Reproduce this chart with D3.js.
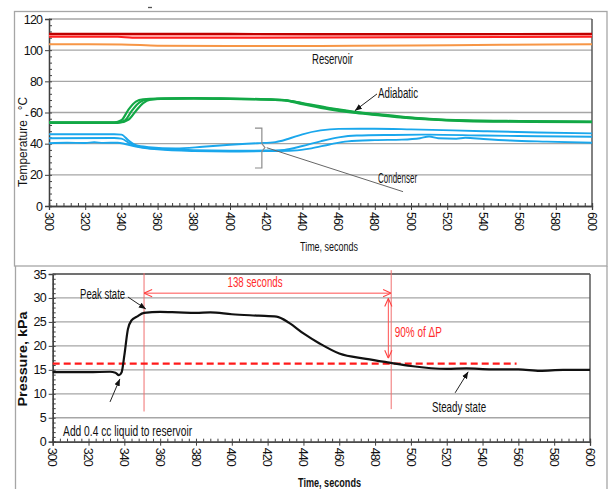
<!DOCTYPE html>
<html>
<head>
<meta charset="utf-8">
<script src="https://cdn.jsdelivr.net/npm/d3@7"></script>
<style>
  body { margin: 0; background: #fff; }
  svg text { font-family: "Liberation Sans", Arial, sans-serif; }
</style>
</head>
<body>
<div id="chart"></div>
<script>
/*
DATA
*/
// temperature panel, [time s, °C]
const reservoirDark = [[300, 110.5], [400, 110.4], [500, 110.3], [600, 110.5]];
const reservoirMid = [[300, 109.5], [400, 109.4], [600, 109.6]];
const reservoirRed = [[300, 108.6], [338, 108.6], [346, 108], [400, 108], [500, 108.3], [600, 108.6]];
const reservoirOrange = [[300, 103.8], [340, 103.7], [360, 102.9], [400, 102.6], [450, 102.7], [500, 103], [550, 103.4], [600, 103.8]];

const adiabatic1 = [[300, 53.5], [336, 53.5], [340, 55], [344, 62], [348, 67], [352, 68.5], [360, 69], [380, 69.2], [400, 68.9], [420, 68.5], [430, 68], [440, 65.8], [455, 62.5], [468, 60.3], [480, 58.8], [494, 57.2], [510, 55.8], [530, 54.8], [560, 54.3], [600, 54]];
const adiabatic2 = [[300, 53.4], [338, 53.4], [342, 55], [346, 61.5], [350, 66.5], [354, 68.3], [362, 68.8], [380, 69], [400, 68.7], [420, 68.3], [430, 67.8], [440, 65.4], [455, 62], [468, 59.9], [480, 58.5], [494, 56.9], [510, 55.5], [530, 54.5], [560, 54.1], [600, 53.8]];
const adiabatic3 = [[300, 53.6], [339, 53.6], [344, 55.5], [348, 61], [352, 66], [356, 68.2], [364, 68.9], [380, 69.1], [400, 68.8], [420, 68.4], [430, 67.9], [440, 66], [455, 62.8], [468, 60.6], [480, 59.1], [494, 57.4], [510, 56], [530, 55], [560, 54.5], [600, 54.2]];

const condenserA = [[300, 46], [336, 46], [340, 45.8], [344, 42], [348, 39], [355, 37.8], [370, 37], [385, 38], [400, 39.3], [415, 40.3], [425, 41], [432, 43], [440, 46], [450, 48.5], [460, 49.5], [480, 49.6], [500, 49.2], [540, 48], [570, 47.2], [600, 46.6]];
const condenserB = [[300, 43.5], [336, 43.6], [340, 43.2], [345, 40], [350, 38], [360, 36.7], [380, 35.8], [400, 35.5], [420, 35.6], [430, 36], [440, 38.5], [450, 41.5], [460, 44], [470, 45.2], [490, 45.6], [510, 45.8], [540, 45.2], [570, 44.8], [600, 44.4]];
const condenserC = [[300, 40.3], [310, 40.6], [320, 40.4], [325, 40.9], [330, 40.5], [338, 40.6], [342, 39.8], [348, 38.2], [360, 36.4], [380, 35.3], [400, 35], [420, 35.2], [435, 35.6], [445, 37], [455, 39.5], [465, 41.5], [480, 42.3], [495, 42.6], [505, 43.5], [510, 44.6], [515, 43.5], [525, 43.2], [530, 43.8], [540, 43], [555, 42], [575, 41.3], [600, 40.6]];

// pressure panel, [time s, kPa]
const pressure = [[300, 14.5], [320, 14.5], [332, 14.6], [335, 14.4], [337, 13.9], [338.5, 14.5], [340, 18], [342, 23.5], [344, 25.3], [347, 26.1], [351, 26.9], [360, 27.1], [370, 27], [380, 26.9], [388, 27], [400, 26.6], [415, 26.3], [425, 26.1], [432, 24.8], [440, 22.6], [449, 20.5], [460, 18.4], [475, 17.3], [488, 16.5], [500, 15.8], [520, 15.2], [531, 15.3], [545, 15.1], [560, 15.1], [572, 14.8], [585, 15], [600, 15]];
const threshold = [[300, 16.3], [559, 16.3]];
const peakTime = 351;
const steadyTime = 489;

// axes
const timeTicks = d3.range(300, 601, 20);
const tempTicks = d3.range(0, 121, 20);
const pressTicks = d3.range(0, 36, 5);

/*
SET UP
*/
const w = 609;
const h = 489;
const gridCol = "#a6a6a6";
const frameCol = "#a6a6a6";
const axisCol = "#404040";

const svg = d3.select("#chart").append("svg").attr("width", w).attr("height", h);

const defs = svg.append("defs");
defs.append("marker").attr("id", "tri").attr("viewBox", "0 0 10 10")
	.attr("refX", 10).attr("refY", 5).attr("markerUnits", "userSpaceOnUse")
	.attr("markerWidth", 7).attr("markerHeight", 7).attr("orient", "auto")
	.append("path").attr("d", "M0,1 L10,5 L0,9 z").attr("fill", "#111");
defs.append("marker").attr("id", "chev").attr("viewBox", "0 0 10 10")
	.attr("refX", 10).attr("refY", 5).attr("markerUnits", "userSpaceOnUse")
	.attr("markerWidth", 9).attr("markerHeight", 9).attr("orient", "auto-start-reverse")
	.append("path").attr("d", "M1,1 L10,5 L1,9").attr("fill", "none")
	.attr("stroke", "#ff4040").attr("stroke-width", 1.2);

// outer frames
svg.append("rect").attr("x", 14.5).attr("y", 11.5).attr("width", 592.5).attr("height", 254.5)
	.attr("fill", "none").attr("stroke", frameCol).attr("stroke-width", 1.3);
svg.append("path").attr("d", "M15.5,266 L15.5,492 M607,266 L607,492")
	.attr("fill", "none").attr("stroke", frameCol).attr("stroke-width", 1.3);
svg.append("line").attr("x1", 148).attr("x2", 152).attr("y1", 7.5).attr("y2", 7.5)
	.attr("stroke", "#555").attr("stroke-width", 1.3);

/*
PANEL HELPER
*/
function panel(x, y, yTicks, yMinorStep, minorTime) {
	const g = svg.append("g");
	// grid
	g.selectAll(".grid").data(yTicks.filter((d) => d > y.domain()[0]))
		.join("line").attr("class", "grid")
		.attr("x1", x.range()[0]).attr("x2", x.range()[1])
		.attr("y1", (d) => y(d)).attr("y2", (d) => y(d))
		.attr("stroke", gridCol).attr("stroke-width", 1.3);
	// right border
	g.append("line").attr("x1", x.range()[1]).attr("x2", x.range()[1])
		.attr("y1", y.range()[1]).attr("y2", y.range()[0])
		.attr("stroke", "#595959").attr("stroke-width", 1.5);

	const yAxis = g.append("g").attr("transform", `translate(${x.range()[0]},0)`)
		.call(d3.axisLeft(y).tickValues(yTicks).tickSize(4).tickPadding(3));
	g.append("g").attr("transform", `translate(${x.range()[0]},0)`)
		.call(d3.axisLeft(y).tickValues(d3.range(y.domain()[0], y.domain()[1] + 0.01, yMinorStep)).tickSize(-3).tickFormat(""));

	g.append("g").attr("transform", `translate(0,${y.range()[0]})`)
		.call(d3.axisBottom(x).tickValues(timeTicks).tickSize(4).tickFormat(""));
	g.append("g").attr("transform", `translate(0,${y.range()[0]})`)
		.call(d3.axisBottom(x).tickValues(d3.range(300, 601, minorTime)).tickSize(-3).tickFormat(""));

	g.selectAll(".domain").attr("stroke", axisCol).attr("stroke-width", 1.3);
	g.selectAll(".tick line").attr("stroke", axisCol);
	yAxis.selectAll("text").attr("font-size", 12.5).attr("fill", "#111")
		.attr("letter-spacing", "-0.9px");

	// rotated time labels
	g.selectAll(".tlab").data(timeTicks).join("text").attr("class", "tlab")
		.attr("transform", (d) => `translate(${x(d)},${y.range()[0] + 6}) rotate(90)`)
		.attr("dy", "0.35em").attr("font-size", 12.5).attr("letter-spacing", "-0.9px")
		.attr("fill", "#111").text((d) => d);
	return g;
}

/*
TEMPERATURE PANEL
*/
const xT = d3.scaleLinear().domain([300, 600]).range([49, 592]);
const yT = d3.scaleLinear().domain([0, 120]).range([206, 19]);
panel(xT, yT, tempTicks, 4, 4);

const lineT = d3.line().x((d) => xT(d[0])).y((d) => yT(d[1])).curve(d3.curveMonotoneX);

const tempSeries = [
	{ data: reservoirOrange, color: "#f79646", width: 2 },
	{ data: reservoirMid, color: "#ff9a9a", width: 2 },
	{ data: reservoirRed, color: "#ff2020", width: 2 },
	{ data: reservoirDark, color: "#c00000", width: 2.2 },
	{ data: condenserC, color: "#1aa7ec", width: 1.9 },
	{ data: condenserB, color: "#1aa7ec", width: 1.9 },
	{ data: condenserA, color: "#1aa7ec", width: 1.9 },
	{ data: adiabatic1, color: "#12a846", width: 2.2 },
	{ data: adiabatic2, color: "#12a846", width: 2.2 },
	{ data: adiabatic3, color: "#12a846", width: 2.2 }
];

svg.append("g").selectAll("path").data(tempSeries).join("path")
	.attr("d", (d) => lineT(d.data)).attr("fill", "none")
	.attr("stroke", (d) => d.color).attr("stroke-width", (d) => d.width);

// annotations
function label(x, y, txt, len, opts = {}) {
	return svg.append("text").attr("x", x).attr("y", y).text(txt)
		.attr("font-size", opts.size || 14).attr("fill", opts.fill || "#111")
		.attr("font-weight", opts.weight || "normal")
		.attr("text-anchor", opts.anchor || "start")
		.attr("textLength", len).attr("lengthAdjust", "spacingAndGlyphs");
}

label(xT(445.3), yT(91.1), "Reservoir", 41);
label(xT(481.8), yT(69.3), "Adiabatic", 40);
svg.append("line").attr("x1", xT(481.2)).attr("y1", yT(71.9)).attr("x2", xT(469)).attr("y2", yT(61.2))
	.attr("stroke", "#222").attr("stroke-width", 1).attr("marker-end", "url(#tri)");

const bx0 = xT(413.8), bx1 = xT(417.6), bTip = xT(419.3);
const bTop = yT(50), bMid = yT(37.5), bBot = yT(24.4);
svg.append("path")
	.attr("d", `M${bx0},${bTop} L${bx1},${bTop} L${bx1},${bMid - 4} L${bTip},${bMid} L${bx1},${bMid + 4} L${bx1},${bBot} L${bx0},${bBot}`)
	.attr("fill", "none").attr("stroke", "#8c8c8c").attr("stroke-width", 1.2);
svg.append("line").attr("x1", xT(420.3)).attr("y1", yT(37.4)).attr("x2", xT(495.6)).attr("y2", yT(9.2))
	.attr("stroke", "#666").attr("stroke-width", 1);
label(xT(481.8), yT(14.8), "Condenser", 39);

label(300, 251, "Time, seconds", 58, { size: 12 });
svg.append("text").attr("transform", `translate(27,142) rotate(-90)`)
	.attr("text-anchor", "middle").attr("font-size", 12).attr("fill", "#111")
	.attr("textLength", 90).attr("lengthAdjust", "spacingAndGlyphs")
	.text("Temperature , °C");

/*
PRESSURE PANEL
*/
const xB = d3.scaleLinear().domain([300, 600]).range([52.7, 590]);
const yB = d3.scaleLinear().domain([0, 35]).range([441.7, 274]);
panel(xB, yB, pressTicks, 1, 4);
// top border of plot
svg.append("line").attr("x1", xB(300)).attr("x2", xB(600)).attr("y1", yB(35)).attr("y2", yB(35))
	.attr("stroke", "#595959").attr("stroke-width", 1.3);

const lineB = d3.line().x((d) => xB(d[0])).y((d) => yB(d[1])).curve(d3.curveMonotoneX);

// marker lines
[[peakTime, 6.3, 35.2], [steadyTime, 6.8, 35.8]].forEach((v) => {
	svg.append("line").attr("x1", xB(v[0])).attr("x2", xB(v[0]))
		.attr("y1", yB(v[1])).attr("y2", yB(v[2]))
		.attr("stroke", "#f07070").attr("stroke-width", 1);
});

svg.append("path").attr("d", lineB(threshold)).attr("fill", "none")
	.attr("stroke", "#ff1a1a").attr("stroke-width", 2.2).attr("stroke-dasharray", "7,4");

svg.append("path").attr("d", lineB(pressure)).attr("fill", "none")
	.attr("stroke", "#111").attr("stroke-width", 2.2);

// 138 s and 90% arrows
svg.append("line").attr("x1", xB(peakTime)).attr("x2", xB(steadyTime))
	.attr("y1", yB(31)).attr("y2", yB(31)).attr("stroke", "#ff5050").attr("stroke-width", 1)
	.attr("marker-start", "url(#chev)").attr("marker-end", "url(#chev)");
svg.append("line").attr("x1", xB(487.4)).attr("x2", xB(487.4))
	.attr("y1", yB(29.9)).attr("y2", yB(17.4)).attr("stroke", "#ff5050").attr("stroke-width", 1)
	.attr("marker-start", "url(#chev)").attr("marker-end", "url(#chev)");
label(xB(413), yB(32.3), `${steadyTime - peakTime} seconds`, 55, { size: 14.5, fill: "#ff2b2b", anchor: "middle" });
label(xB(491), yB(21.9), "90% of ΔP", 47, { size: 14.5, fill: "#ff2b2b" });

label(xB(315.3), yB(29.7), "Peak state", 45);
svg.append("line").attr("x1", xB(342)).attr("y1", yB(30.2)).attr("x2", xB(352)).attr("y2", yB(27.7))
	.attr("stroke", "#222").attr("stroke-width", 1).attr("marker-end", "url(#tri)");
label(xB(305.8), yB(1.2), "Add 0.4 cc liquid to reservoir", 129, { size: 14.5 });
svg.append("line").attr("x1", xB(332)).attr("y1", yB(8.3)).attr("x2", xB(337.5)).attr("y2", yB(13.1))
	.attr("stroke", "#222").attr("stroke-width", 1).attr("marker-end", "url(#tri)");
label(xB(511.8), yB(6.1), "Steady state", 54, { size: 14.5 });
svg.append("line").attr("x1", xB(524.7)).attr("y1", yB(10.2)).attr("x2", xB(532)).attr("y2", yB(14.6))
	.attr("stroke", "#222").attr("stroke-width", 1).attr("marker-end", "url(#tri)");

label(298, 487, "Time, seconds", 63, { size: 13, weight: "bold" });
svg.append("text").attr("transform", `translate(27,359) rotate(-90)`)
	.attr("text-anchor", "middle").attr("font-size", 13).attr("font-weight", "bold")
	.attr("fill", "#111").attr("textLength", 95).attr("lengthAdjust", "spacingAndGlyphs")
	.text("Pressure, kPa");
</script>
</body>
</html>
